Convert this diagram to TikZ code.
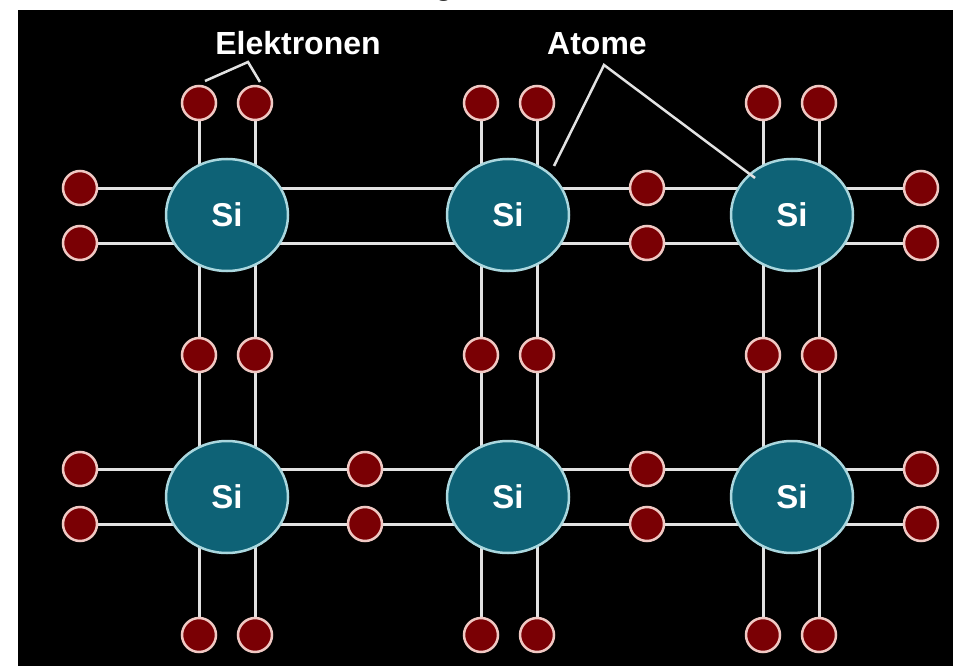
\documentclass[tikz,border=0pt]{standalone}
\usepackage{fontspec}
\setmainfont{Liberation Sans}
\usetikzlibrary{shapes.geometric, backgrounds}
\definecolor{siteal}{RGB}{14,98,118}
\definecolor{sirand}{RGB}{170,215,222}
\definecolor{elrot}{RGB}{122,0,4}
\definecolor{elrand}{RGB}{240,200,195}
\definecolor{bindung}{RGB}{226,226,226}
\tikzset{
  atom/.style = {ellipse, draw=sirand, fill=siteal, line width=2.5pt, minimum width=122pt, minimum height=112pt, inner sep=0pt, text=white, font=\fontsize{33}{35}\selectfont\bfseries},
  elektron/.style = {circle, draw=elrand, fill=elrot, line width=2.5pt, minimum size=34pt, inner sep=0pt},
  bond/.style = {draw=bindung, line width=3pt},
  pointer/.style = {draw=bindung, line width=2.5pt},
  tag/.style = {text=white, font=\fontsize{32}{34}\selectfont\bfseries, inner sep=0pt, anchor=base}
}

\begin{document}
\begin{tikzpicture}[x=1pt, y=-1pt]

  \useasboundingbox (0,0) rectangle (953,666);

  % cut-off title above the panel
  \node (titel) [anchor=base, text=black!85, font=\fontsize{28}{30}\selectfont\bfseries] at (444,-4) {g};

  % Silicon atoms
  \node (si1) [atom] at (227,215) {Si};
  \node (si2) [atom] at (508,215) {Si};
  \node (si3) [atom] at (792,215) {Si};
  \node (si4) [atom] at (227,497) {Si};
  \node (si5) [atom] at (508,497) {Si};
  \node (si6) [atom] at (792,497) {Si};

  % Electrons above the top row
  \node (top1l) [elektron] at (199,103) {};
  \node (top1r) [elektron] at (255,103) {};
  \node (top2l) [elektron] at (481,103) {};
  \node (top2r) [elektron] at (537,103) {};
  \node (top3l) [elektron] at (763,103) {};
  \node (top3r) [elektron] at (819,103) {};

  % Electrons between the rows
  \node (mid1l) [elektron] at (199,355) {};
  \node (mid1r) [elektron] at (255,355) {};
  \node (mid2l) [elektron] at (481,355) {};
  \node (mid2r) [elektron] at (537,355) {};
  \node (mid3l) [elektron] at (763,355) {};
  \node (mid3r) [elektron] at (819,355) {};

  % Electrons below the bottom row
  \node (bot1l) [elektron] at (199,635) {};
  \node (bot1r) [elektron] at (255,635) {};
  \node (bot2l) [elektron] at (481,635) {};
  \node (bot2r) [elektron] at (537,635) {};
  \node (bot3l) [elektron] at (763,635) {};
  \node (bot3r) [elektron] at (819,635) {};

  % Electrons of the top row (left, middle, right)
  \node (w1a) [elektron] at (80,188) {};
  \node (w1b) [elektron] at (80,243) {};
  \node (c1a) [elektron] at (647,188) {};
  \node (c1b) [elektron] at (647,243) {};
  \node (e1a) [elektron] at (921,188) {};
  \node (e1b) [elektron] at (921,243) {};

  % Electrons of the bottom row
  \node (w2a) [elektron] at (80,469) {};
  \node (w2b) [elektron] at (80,524) {};
  \node (d2a) [elektron] at (365,469) {};
  \node (d2b) [elektron] at (365,524) {};
  \node (c2a) [elektron] at (647,469) {};
  \node (c2b) [elektron] at (647,524) {};
  \node (e2a) [elektron] at (921,469) {};
  \node (e2b) [elektron] at (921,524) {};

  % Labels
  \node (lblel) [tag] at (298,55) {Elektronen};
  \node (lblat) [tag] at (597,55) {Atome};

  % Panel and bonds behind everything
  \begin{pgfonlayer}{background}
    \fill[black] (18,10) rectangle (953,666);

    % horizontal bonds
    \draw[bond] (w1a) -- (c1a) -- (e1a);
    \draw[bond] (w1b) -- (c1b) -- (e1b);
    \draw[bond] (w2a) -- (d2a) -- (c2a) -- (e2a);
    \draw[bond] (w2b) -- (d2b) -- (c2b) -- (e2b);

    % vertical bonds
    \draw[bond] (top1l) -- (mid1l) -- (bot1l);
    \draw[bond] (top1r) -- (mid1r) -- (bot1r);
    \draw[bond] (top2l) -- (mid2l) -- (bot2l);
    \draw[bond] (top2r) -- (mid2r) -- (bot2r);
    \draw[bond] (top3l) -- (mid3l) -- (bot3l);
    \draw[bond] (top3r) -- (mid3r) -- (bot3r);
  \end{pgfonlayer}

  % Pointer lines of the labels
  \coordinate (elspitze) at (248,62);
  \coordinate (elfuss1) at (205,81);
  \coordinate (elfuss2) at (260,82);
  \coordinate (atspitze) at (604,65);
  \coordinate (atfuss1) at (554,166);
  \coordinate (atfuss2) at (755,178);
  \draw[pointer] (elfuss1) -- (elspitze) -- (elfuss2);
  \draw[pointer] (atfuss1) -- (atspitze) -- (atfuss2);

\end{tikzpicture}
\end{document}
